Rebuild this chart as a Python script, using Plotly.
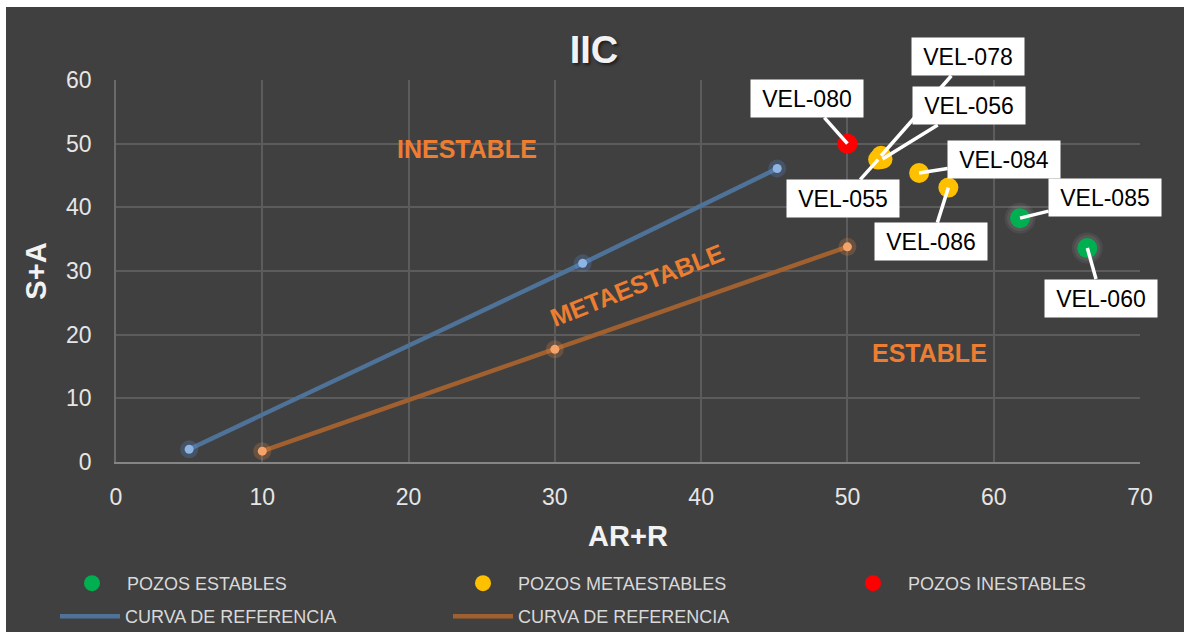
import plotly.graph_objects as go

# ---------------- data ----------------
stable_names = ["VEL-085", "VEL-060"]
stable_x = [61.8, 66.4]
stable_y = [38.3, 33.6]

meta_names = ["VEL-078", "VEL-056", "VEL-055", "VEL-084", "VEL-086"]
meta_x = [52.3, 52.4, 52.1, 54.9, 56.9]
meta_y = [48.1, 47.6, 47.5, 45.4, 43.1]

unstable_names = ["VEL-080"]
unstable_x = [50.0]
unstable_y = [50.0]

ref1_x = [5.0, 31.9, 45.2]
ref1_y = [2.0, 31.2, 46.1]
ref2_x = [10.0, 30.0, 50.0]
ref2_y = [1.7, 17.7, 33.8]

x_ticks = [0, 10, 20, 30, 40, 50, 60, 70]
y_ticks = [0, 10, 20, 30, 40, 50, 60]

# label offsets in pixels (styling)
label_offsets = {
    "VEL-080": (-40, -45),
    "VEL-078": (87, -99),
    "VEL-056": (86, -53),
    "VEL-055": (-35, 39),
    "VEL-084": (85, -13),
    "VEL-086": (-17, 54),
    "VEL-085": (85, -21),
    "VEL-060": (14, 50),
}

FONT = "Arial, Liberation Sans, sans-serif"
BG = "#404040"
BLUE_LINE = "#4f7299"
BLUE_PT = "#8db4e2"
ORANGE_LINE = "#a0602f"
ORANGE_PT = "#f4a46a"

# plot area in figure pixels
L, T, PW, PH = 110, 73, 1024, 382

fig = go.Figure()

# soft glow for stable points
fig.add_trace(go.Scatter(x=stable_x, y=stable_y, mode="markers",
                         marker=dict(size=31, color="rgba(200,200,200,0.08)", line=dict(width=0)),
                         showlegend=False, hoverinfo="skip"))
fig.add_trace(go.Scatter(x=stable_x, y=stable_y, mode="markers",
                         marker=dict(size=26, color="rgba(200,200,200,0.10)", line=dict(width=0)),
                         showlegend=False, hoverinfo="skip"))

fig.add_trace(go.Scatter(x=stable_x, y=stable_y, mode="markers", name="POZOS ESTABLES",
                         text=stable_names, legend="legend",
                         marker=dict(size=20, color="#00b050", line=dict(width=0))))
fig.add_trace(go.Scatter(x=meta_x, y=meta_y, mode="markers", name="POZOS METAESTABLES",
                         text=meta_names, legend="legend2",
                         marker=dict(size=20, color="#ffc000", line=dict(width=0))))
fig.add_trace(go.Scatter(x=unstable_x, y=unstable_y, mode="markers", name="POZOS INESTABLES",
                         text=unstable_names, legend="legend3",
                         marker=dict(size=20, color="#ff0000", line=dict(width=0))))

# reference curves
fig.add_trace(go.Scatter(x=ref1_x, y=ref1_y, mode="lines", name="CURVA DE REFERENCIA",
                         legend="legend4", line=dict(color=BLUE_LINE, width=4.5)))
fig.add_trace(go.Scatter(x=ref2_x, y=ref2_y, mode="lines", name="CURVA DE REFERENCIA",
                         legend="legend5", line=dict(color=ORANGE_LINE, width=4.5)))

# glow + markers on curves
for xs, ys, glow, pt in [(ref1_x, ref1_y, "rgba(90,150,230,0.22)", BLUE_PT),
                         (ref2_x, ref2_y, "rgba(240,140,70,0.22)", ORANGE_PT)]:
    fig.add_trace(go.Scatter(x=xs, y=ys, mode="markers",
                             marker=dict(size=18, color=glow, line=dict(width=0)),
                             showlegend=False, hoverinfo="skip"))
    fig.add_trace(go.Scatter(x=xs, y=ys, mode="markers",
                             marker=dict(size=9, color=pt, line=dict(width=0)),
                             showlegend=False))

annotations = []
for names, xs, ys in [(unstable_names, unstable_x, unstable_y),
                      (meta_names, meta_x, meta_y),
                      (stable_names, stable_x, stable_y)]:
    for n, x, y in zip(names, xs, ys):
        ax, ay = label_offsets[n]
        annotations.append(dict(
            x=x, y=y, xref="x", yref="y", text=n, showarrow=True,
            ax=ax, ay=ay, arrowhead=0, arrowwidth=3.5, arrowcolor="white",
            standoff=0, bgcolor="white", width=110, height=35,
            font=dict(family=FONT, size=23, color="black")))

region_font = dict(family=FONT, size=25, color="#ed7d31", weight="bold")
annotations += [
    dict(x=24.0, y=49.2, xref="x", yref="y", text="INESTABLE", showarrow=False, font=region_font),
    dict(x=55.6, y=17.1, xref="x", yref="y", text="ESTABLE", showarrow=False, font=region_font),
    dict(x=35.6, y=27.8, xref="x", yref="y", text="METAESTABLE", showarrow=False,
         textangle=-21.5, font=region_font),
]

legend_font = dict(family=FONT, size=18, color="#d9d9d9")


def legend_at(left_px, top_px):
    return dict(orientation="h", x=(left_px - L) / PW, xanchor="left",
                y=(T + PH - top_px) / PH, yanchor="top", itemwidth=60,
                bgcolor="rgba(0,0,0,0)", font=legend_font)


fig.update_layout(
    width=1184, height=632,
    margin=dict(l=L, r=1184 - L - PW, t=T, b=632 - T - PH, autoexpand=False),
    paper_bgcolor=BG,
    plot_bgcolor=BG,
    title=dict(text="IIC", x=588 / 1184, xref="container", xanchor="center",
               y=1 - 43 / 632, yref="container", yanchor="middle",
               font=dict(family=FONT, size=38, color="#f2f2f2", weight="bold",
                         shadow="2px 2px 3px #1e1e1e")),
    xaxis=dict(range=[0, 70], tickvals=x_ticks, ticktext=[str(v) for v in x_ticks],
               showgrid=True, gridcolor="#5c5c5c", gridwidth=1.5, zeroline=False,
               showline=True, linecolor="#858585", linewidth=2,
               ticks="", ticklabelstandoff=13,
               tickfont=dict(family=FONT, size=23, color="#e6e6e6"),
               title=dict(text="AR+R", standoff=17,
                          font=dict(family=FONT, size=29, color="#f2f2f2", weight="bold"))),
    yaxis=dict(range=[0, 60], tickvals=y_ticks, ticktext=[str(v) for v in y_ticks],
               showgrid=True, gridcolor="#5c5c5c", gridwidth=1.5, zeroline=False,
               showline=True, linecolor="#6a6a6a", linewidth=1.5,
               ticks="", ticklabelstandoff=18,
               tickfont=dict(family=FONT, size=23, color="#e6e6e6"),
               title=dict(text="S+A", standoff=11,
                          font=dict(family=FONT, size=29, color="#f2f2f2", weight="bold"))),
    legend=legend_at(51, 558),
    legend2=legend_at(442, 558),
    legend3=legend_at(832, 558),
    legend4=legend_at(49, 591),
    legend5=legend_at(442, 591),
    annotations=annotations,
    showlegend=True,
)

fig.write_html(
    "out.html",
    post_script="document.body.style.margin='7px 0 0 6px';"
                "document.body.style.overflow='hidden';"
                "document.documentElement.style.overflow='hidden';",
)
